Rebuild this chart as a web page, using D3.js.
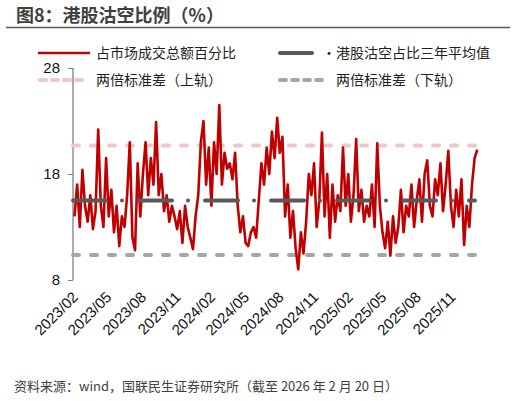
<!DOCTYPE html>
<html><head><meta charset="utf-8">
<script src="https://cdn.jsdelivr.net/npm/d3@7"></script>
<style>body{margin:0;background:#fff;font-family:"Noto Sans CJK SC","Noto Sans",sans-serif}</style>
</head><body><svg id="c" width="516" height="401"></svg>
<script>
const shortRatio = [
  14,17,13,18.4,15,13.5,16,12.8,14.5,22.2,
  15,13,19.5,14,16.5,12.5,15,11.2,14,13,
  16,21,12,10.8,19,14,18,21,16,19.5,
  17,22.9,16,18,14.5,16,13.5,15,14,12.8,
  14.5,11.5,15,13,12,10.9,14,16,21,23,
  17,20.5,15,21,18,24.5,17,20,18.5,19,
  17.5,20,15,12.5,14,11.5,11.2,12.5,13,12,
  15.5,19,17,20.5,18,22,19.5,23.3,20,21.5,
  14,17,12,14.5,11,9,12.5,10.5,13.5,18,
  16,19,13,15.5,21.9,14,18,12,17,13.5,
  16,14.5,20.5,15,18,13.5,16,21.3,14.5,16.5,
  13.5,15,14,17,13,20.9,15,12.5,11,13.5,
  10.3,14,11.5,13,16.5,12.5,15,14,17,13,
  15.5,17.5,13.5,18,19.3,15,14,17.5,16,19,
  14.5,17,20.2,15,13,16.5,14,17.5,11.3,15,
  13,17,19.5,20.3
];
const dates = d3.timeWeek.every(1).range(new Date(2023,1,3), new Date(2026,1,1)).slice(0, shortRatio.length);
const meanLevel = 15.5;
const upperBand = 20.7;
const lowerBand = 10.35;
const yTicks = [8, 18, 28];
const xTicks = ["2023/02","2023/05","2023/08","2023/11","2024/02","2024/05","2024/08","2024/11","2025/02","2025/05","2025/08","2025/11"];

const svg = d3.select("#c");
const x = d3.scaleTime().domain([new Date(2023,1,1), new Date(2026,0,5)]).range([73, 475]);
const y = d3.scaleLinear().domain([8, 28]).range([280, 68]);

svg.append("text").attr("x", 16).attr("y", 22).attr("font-size", 18).attr("font-weight", "bold")
  .attr("fill", "#404040").text("图8：港股沽空比例（%）");
svg.append("line").attr("x1", 6).attr("x2", 510).attr("y1", 27.5).attr("y2", 27.5).attr("stroke", "#595959").attr("stroke-width", 1.5);

// legend
const lg = svg.append("g").attr("font-size", 14).attr("fill", "#222");
lg.append("line").attr("x1", 38).attr("x2", 90).attr("y1", 53).attr("y2", 53).attr("stroke", "#C00000").attr("stroke-width", 2.5);
lg.append("text").attr("x", 96).attr("y", 58).text("占市场成交总额百分比");
lg.append("line").attr("x1", 280).attr("x2", 312).attr("y1", 53).attr("y2", 53).attr("stroke", "#595959").attr("stroke-width", 4).attr("stroke-linecap", "round");
lg.append("text").attr("x", 322).attr("y", 58).text("·港股沽空占比三年平均值");
lg.append("line").attr("x1", 40).attr("x2", 86).attr("y1", 80).attr("y2", 80).attr("stroke", "#EFC7C7").attr("stroke-width", 4).attr("stroke-dasharray", "6,6").attr("stroke-linecap", "round");
lg.append("text").attr("x", 96).attr("y", 85).text("两倍标准差（上轨）");
lg.append("line").attr("x1", 280).attr("x2", 326).attr("y1", 80).attr("y2", 80).attr("stroke", "#A6A6A6").attr("stroke-width", 4).attr("stroke-dasharray", "6,6").attr("stroke-linecap", "round");
lg.append("text").attr("x", 336).attr("y", 85).text("两倍标准差（下轨）");

// y axis
const ya = svg.append("g").attr("transform", "translate(73,0)")
  .call(d3.axisLeft(y).tickValues(yTicks).tickSize(5).tickPadding(8));
ya.select(".domain").attr("stroke", "#808080").attr("stroke-width", 1.3).attr("d", "M0,68V280");
ya.selectAll(".tick line").attr("stroke", "#808080");
ya.selectAll("text").attr("font-size", 15).attr("fill", "#111").attr("font-family", "Liberation Sans, sans-serif");

// x labels
const parse = d3.timeParse("%Y/%m");
svg.append("g").selectAll("text").data(xTicks).join("text")
  .attr("transform", d => `translate(${x(parse(d)) + 6},${298}) rotate(-45)`)
  .attr("text-anchor", "end").attr("font-size", 15).attr("fill", "#111")
  .attr("font-family", "Liberation Sans, sans-serif").text(d => d);

const x0 = x.range()[0], x1 = 475;
const band = (v, c, dash, w) => svg.append("line").attr("x1", x0).attr("x2", x1).attr("y1", y(v)).attr("y2", y(v))
  .attr("stroke", c).attr("stroke-width", w).attr("stroke-dasharray", dash).attr("stroke-linecap", "round");
band(upperBand, "#EFC7C7", "6,12", 4);
band(lowerBand, "#A6A6A6", "6,12", 4);

svg.append("path").datum(shortRatio)
  .attr("fill", "none").attr("stroke", "#C00000").attr("stroke-width", 2.6).attr("stroke-linejoin", "round")
  .attr("d", d3.line().x((d, i) => x(dates[i])).y(d => y(d)));

band(meanLevel, "#595959", "33,16,0,17", 4);

svg.append("text").attr("x", 14).attr("y", 391).attr("font-size", 13).attr("fill", "#404040")
  .text("资料来源：wind，国联民生证券研究所（截至 2026 年 2 月 20 日）");
</script></body></html>
